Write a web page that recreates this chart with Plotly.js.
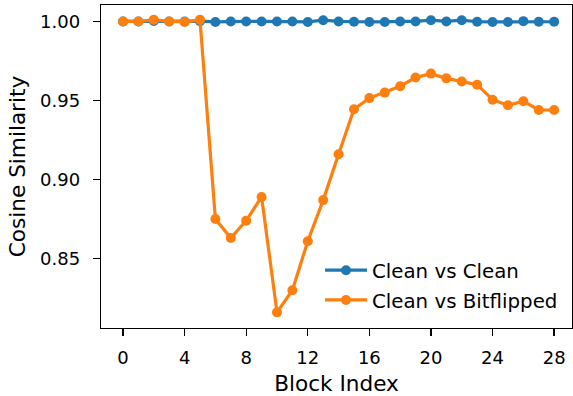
<!DOCTYPE html>
<html><head><meta charset="utf-8">
<script src="https://cdn.plot.ly/plotly-3.0.1.min.js"></script>
<style>html,body{margin:0;padding:0;background:#fff}#chart{width:573px;height:396px}</style>
</head><body><div id="chart"></div>
<script>
const blocks = [0,1,2,3,4,5,6,7,8,9,10,11,12,13,14,15,16,17,18,19,20,21,22,23,24,25,26,27,28];
const cleanVsClean = [1.000,1.000,1.0003,1.000,1.000,1.0002,0.9997,1.000,1.000,1.000,1.000,1.000,0.9997,1.0008,1.000,0.9998,0.9997,0.9997,1.000,1.000,1.0008,1.0000,1.0008,0.9998,0.9997,0.9997,1.0002,0.9998,0.9998];
const cleanVsBitflipped = [1.000,1.000,1.001,1.000,0.9997,1.001,0.875,0.863,0.874,0.889,0.816,0.830,0.861,0.887,0.916,0.9445,0.9515,0.955,0.959,0.9645,0.967,0.964,0.962,0.960,0.9505,0.947,0.9495,0.944,0.944];
const xTicks = [0,4,8,12,16,20,24,28];
const yTicks = [0.85,0.90,0.95,1.00];

const traces = [
  {x:blocks, y:cleanVsClean, name:'Clean vs Clean', mode:'lines+markers', legendgroup:'a',
   line:{color:'#1f77b4', width:3.2}, marker:{color:'#1f77b4', size:10}},
  {x:blocks, y:cleanVsBitflipped, name:'Clean vs Bitflipped', mode:'lines+markers', legendgroup:'b',
   line:{color:'#ff7f0e', width:3.2}, marker:{color:'#ff7f0e', size:10}}
];
const axisCommon = {
  ticks:'outside', ticklen:7, tickwidth:1.3, tickcolor:'#000',
  showline:true, linecolor:'#000', linewidth:1.3, mirror:true, showgrid:false, zeroline:false,
  tickfont:{family:'DejaVu Sans', size:18, color:'#000'}
};
const layout = {
  width:573, height:396,
  margin:{l:101, r:1, t:5, b:68},
  paper_bgcolor:'#fff', plot_bgcolor:'#fff',
  font:{family:'DejaVu Sans', size:18, color:'#000'},
  showlegend:true,
  legend:{x:0.465, y:0.239, xanchor:'left', yanchor:'top', bgcolor:'rgba(0,0,0,0)', borderwidth:0,
          itemwidth:42,
          font:{family:'DejaVu Sans', size:19.8, color:'#000'}, tracegroupgap:1},
  xaxis:Object.assign({range:[-1.43,29.16], tickmode:'array', tickvals:xTicks, ticktext:xTicks.map(String),
         ticklabelstandoff:6,
         title:{text:'Block Index', font:{family:'DejaVu Sans', size:21.6, color:'#000'}, standoff:10}}, axisCommon),
  yaxis:Object.assign({range:[0.8061,1.0104], tickmode:'array', tickvals:yTicks, ticktext:yTicks.map(v=>v.toFixed(2)),
         ticklabelstandoff:9,
         title:{text:'Cosine Similarity', font:{family:'DejaVu Sans', size:21.6, color:'#000'}, standoff:8}}, axisCommon)
};
Plotly.newPlot('chart', traces, layout, {displayModeBar:false, staticPlot:true});
</script></body></html>
